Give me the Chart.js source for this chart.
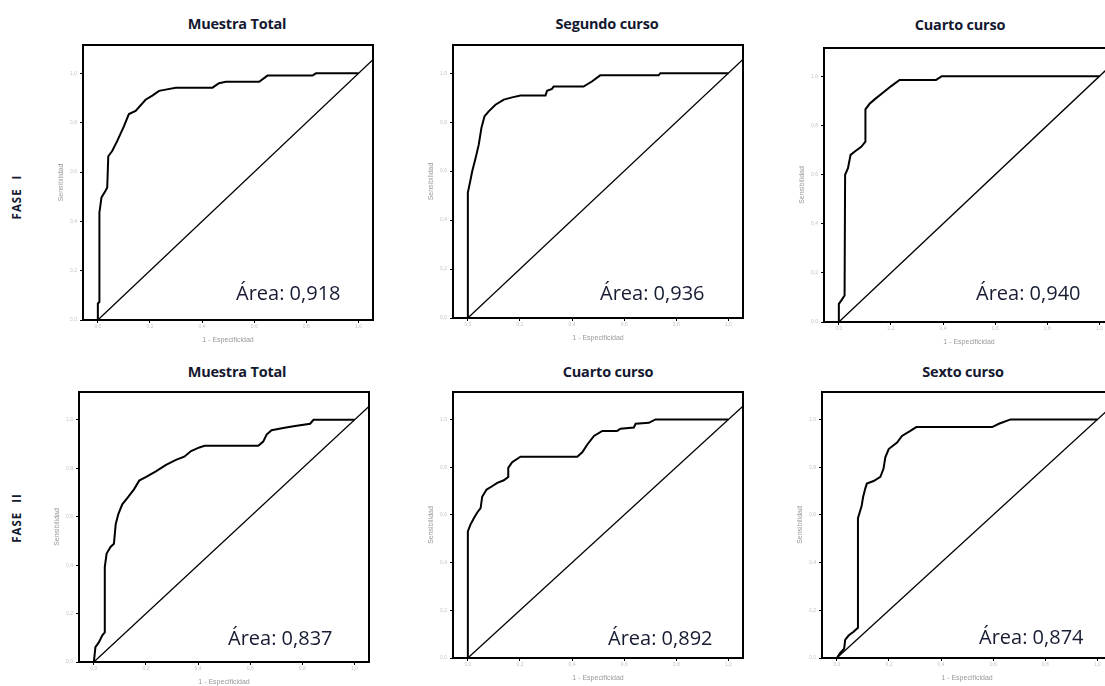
<!DOCTYPE html>
<html>
<head>
<meta charset="utf-8">
<script src="https://cdn.jsdelivr.net/npm/chart.js@4.4.1/dist/chart.umd.min.js"></script>
<style>
  body { margin:0; width:1105px; height:686px; overflow:hidden; background:#fff; position:relative; font-family:'Open Sans', sans-serif; }
  canvas { position:absolute; }
  .ttl { position:absolute; width:200px; margin-left:-100px; text-align:center; font-weight:bold; font-size:14.5px; line-height:18px; color:#141830; white-space:nowrap; letter-spacing:-0.2px; }
  .area { position:absolute; font-size:20px; line-height:24px; color:#161c32; white-space:nowrap; }
  .fase { position:absolute; width:80px; height:16px; line-height:16px; text-align:center; font-weight:bold; font-size:11.5px; color:#141830; transform:rotate(-90deg); letter-spacing:1px; word-spacing:5px; white-space:nowrap; }
</style>
</head>
<body>
<script>
// ticks
var tickVals = [0, 0.2, 0.4, 0.6, 0.8, 1.0];
var tickLabels = ['0,0', '0,2', '0,4', '0,6', '0,8', '1,0'];

// reference line
var diagX = [0, 1.2];
var diagY = [0, 1.2];

// FASE I - Muestra Total
var p1X = [0, 0, 0.006, 0.006, 0.014, 0.029, 0.036, 0.04, 0.055, 0.074, 0.1, 0.119, 0.145, 0.183, 0.209, 0.235, 0.26, 0.299, 0.44, 0.465, 0.491, 0.619, 0.651, 0.824, 0.837, 1];
var p1Y = [0, 0.067, 0.074, 0.436, 0.497, 0.523, 0.537, 0.664, 0.685, 0.725, 0.785, 0.835, 0.848, 0.893, 0.91, 0.929, 0.934, 0.942, 0.942, 0.96, 0.966, 0.966, 0.991, 0.991, 1, 1];

// FASE I - Segundo curso
var p2X = [0, 0, 0.008, 0.017, 0.03, 0.042, 0.052, 0.064, 0.08, 0.106, 0.138, 0.17, 0.202, 0.298, 0.304, 0.323, 0.329, 0.444, 0.476, 0.508, 0.732, 0.739, 1];
var p2Y = [0, 0.512, 0.553, 0.6, 0.654, 0.709, 0.776, 0.824, 0.844, 0.871, 0.892, 0.901, 0.909, 0.909, 0.928, 0.936, 0.945, 0.945, 0.966, 0.991, 0.991, 1, 1];

// FASE I - Cuarto curso
var p3X = [0, 0, 0.009, 0.022, 0.024, 0.035, 0.045, 0.06, 0.086, 0.102, 0.102, 0.118, 0.143, 0.169, 0.201, 0.233, 0.373, 0.395, 1];
var p3Y = [0, 0.074, 0.087, 0.108, 0.599, 0.626, 0.68, 0.693, 0.713, 0.734, 0.865, 0.888, 0.911, 0.933, 0.96, 0.985, 0.985, 1, 1];

// FASE II - Muestra Total
var p4X = [0, 0.006, 0.019, 0.032, 0.042, 0.042, 0.049, 0.064, 0.077, 0.084, 0.094, 0.109, 0.129, 0.154, 0.174, 0.199, 0.238, 0.277, 0.315, 0.347, 0.373, 0.405, 0.425, 0.631, 0.65, 0.663, 0.682, 0.727, 0.766, 0.83, 0.843, 1];
var p4Y = [0, 0.061, 0.081, 0.109, 0.122, 0.393, 0.448, 0.475, 0.488, 0.57, 0.611, 0.651, 0.678, 0.713, 0.749, 0.763, 0.787, 0.814, 0.835, 0.848, 0.871, 0.886, 0.893, 0.893, 0.91, 0.939, 0.957, 0.966, 0.974, 0.984, 1, 1];

// FASE II - Cuarto curso
var p5X = [0, 0, 0.01, 0.023, 0.036, 0.049, 0.055, 0.072, 0.093, 0.113, 0.138, 0.155, 0.155, 0.17, 0.202, 0.42, 0.439, 0.458, 0.484, 0.516, 0.573, 0.586, 0.637, 0.644, 0.695, 0.72, 1];
var p5Y = [0, 0.531, 0.559, 0.586, 0.61, 0.628, 0.676, 0.706, 0.72, 0.734, 0.745, 0.759, 0.797, 0.821, 0.844, 0.844, 0.862, 0.894, 0.931, 0.952, 0.952, 0.961, 0.966, 0.982, 0.986, 1, 1];

// FASE II - Sexto curso
var p6X = [0, 0.013, 0.028, 0.032, 0.045, 0.064, 0.081, 0.081, 0.095, 0.101, 0.109, 0.115, 0.141, 0.167, 0.179, 0.186, 0.199, 0.231, 0.25, 0.282, 0.305, 0.596, 0.622, 0.667, 1];
var p6Y = [0, 0.021, 0.039, 0.076, 0.094, 0.11, 0.127, 0.586, 0.637, 0.676, 0.71, 0.731, 0.742, 0.759, 0.793, 0.841, 0.876, 0.903, 0.931, 0.952, 0.968, 0.968, 0.982, 1, 1];

var titles = ['Muestra Total', 'Segundo curso', 'Cuarto curso', 'Muestra Total', 'Cuarto curso', 'Sexto curso'];
var areas = ['Área: 0,918', 'Área: 0,936', 'Área: 0,940', 'Área: 0,837', 'Área: 0,892', 'Área: 0,874'];
var fases = ['FASE I', 'FASE II'];

var panels = [
  { xs: p1X, ys: p1Y, left: 83,  top: 43,  w: 290, h: 277, tx: 237, ty: 24,  ax: 236, ay: 293 },
  { xs: p2X, ys: p2Y, left: 453, top: 43,  w: 290, h: 275, tx: 607, ty: 24,  ax: 600, ay: 293 },
  { xs: p3X, ys: p3Y, left: 824, top: 46,  w: 290, h: 276, tx: 960, ty: 25,  ax: 976, ay: 293 },
  { xs: p4X, ys: p4Y, left: 79,  top: 390, w: 290, h: 272, tx: 237, ty: 372, ax: 228, ay: 638 },
  { xs: p5X, ys: p5Y, left: 453, top: 390, w: 290, h: 268, tx: 608, ty: 372, ax: 608, ay: 638 },
  { xs: p6X, ys: p6Y, left: 822, top: 390, w: 290, h: 268, tx: 963, ty: 372, ax: 979, ay: 637 }
];

function pts(xs, ys) {
  return xs.map(function (x, i) { return { x: x, y: ys[i] }; });
}

// frame round the plot area
var frame = {
  id: 'frame',
  afterDraw: function (chart) {
    var a = chart.chartArea, c = chart.ctx;
    c.save();
    c.strokeStyle = '#000';
    c.lineWidth = 2;
    c.strokeRect(a.left, a.top, a.right - a.left, a.bottom - a.top);
    c.restore();
  }
};

function fixTicks(scale) {
  scale.ticks = tickVals.map(function (v) { return { value: v }; });
}

panels.forEach(function (p, k) {
  var cv = document.createElement('canvas');
  cv.width = 30 + p.w + 2;
  cv.height = 4 + p.h + 28;
  cv.style.left = (p.left - 30) + 'px';
  cv.style.top = (p.top - 4) + 'px';
  document.body.appendChild(cv);

  new Chart(cv.getContext('2d'), {
    type: 'line',
    data: {
      datasets: [{
        data: pts(p.xs, p.ys),
        borderColor: '#000',
        borderWidth: 2,
        pointRadius: 0,
        tension: 0
      }, {
        data: pts(diagX, diagY),
        borderColor: '#000',
        borderWidth: 1.3,
        pointRadius: 0,
        tension: 0
      }]
    },
    options: {
      responsive: false,
      animation: false,
      layout: { padding: { top: 4, right: 2, left: 0, bottom: 0 } },
      plugins: { legend: { display: false }, tooltip: { enabled: false } },
      scales: {
        x: {
          type: 'linear', min: -0.057, max: 1.056,
          afterBuildTicks: fixTicks,
          afterFit: function (s) { s.height = 28; },
          ticks: { autoSkip: false, maxRotation: 0, padding: 1, color: '#c4c4c4', font: { size: 5 },
                   callback: function (v) { return tickLabels[tickVals.indexOf(v)]; } },
          grid: { drawOnChartArea: false, tickLength: 3, color: '#000' },
          border: { display: false },
          title: { display: true, text: '1 - Especificidad', color: '#999', font: { size: 7 } }
        },
        y: {
          type: 'linear', min: 0, max: 1.115,
          afterBuildTicks: fixTicks,
          afterFit: function (s) { s.width = 30; },
          ticks: { autoSkip: false, padding: 3, color: '#c4c4c4', font: { size: 5 },
                   callback: function (v) { return tickLabels[tickVals.indexOf(v)]; } },
          grid: { drawOnChartArea: false, tickLength: 3, color: '#000' },
          border: { display: false },
          title: { display: true, text: 'Sensibilidad', color: '#999', font: { size: 7 } }
        }
      }
    },
    plugins: [frame]
  });

  var t = document.createElement('div');
  t.className = 'ttl';
  t.textContent = titles[k];
  t.style.left = p.tx + 'px';
  t.style.top = (p.ty - 9) + 'px';
  document.body.appendChild(t);

  var a = document.createElement('div');
  a.className = 'area';
  a.textContent = areas[k];
  a.style.left = p.ax + 'px';
  a.style.top = (p.ay - 12) + 'px';
  document.body.appendChild(a);
});

[197, 518].forEach(function (cy, i) {
  var f = document.createElement('div');
  f.className = 'fase';
  f.textContent = fases[i];
  f.style.left = (17 - 40) + 'px';
  f.style.top = (cy - 8) + 'px';
  document.body.appendChild(f);
});
</script>
</body>
</html>
